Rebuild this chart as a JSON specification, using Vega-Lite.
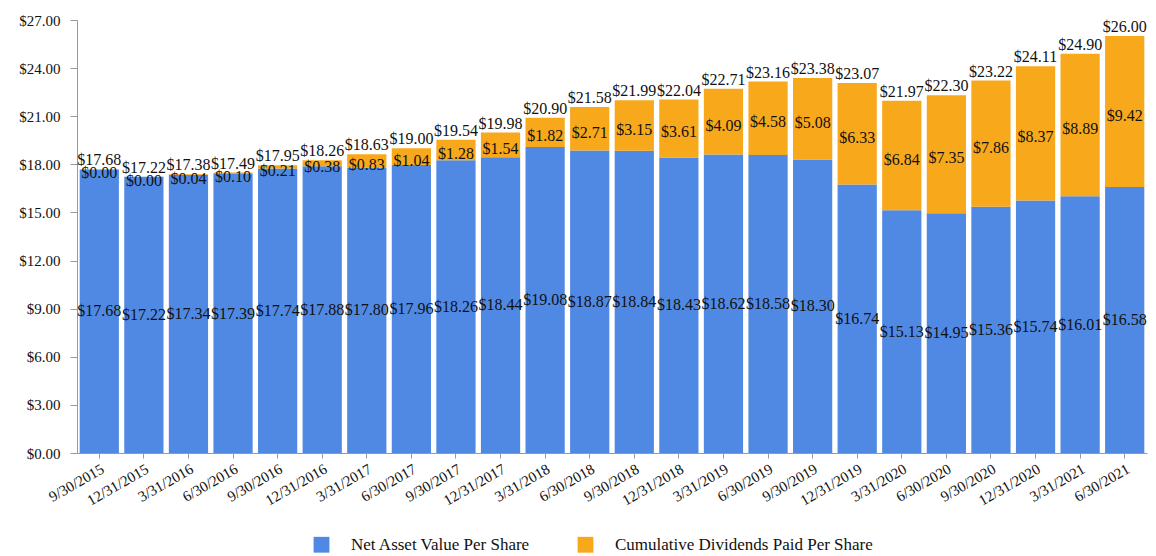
{
  "$schema": "https://vega.github.io/schema/vega-lite/v6.json",
  "width": 1070,
  "height": 433,
  "autosize": {"type": "none"},
  "padding": {"left": 77, "top": 20, "right": 9, "bottom": 103},
  "background": "white",
  "data": {
    "values": [
      {"date": "9/30/2015", "nav": 17.68, "div": 0.00, "total": 17.68},
      {"date": "12/31/2015", "nav": 17.22, "div": 0.00, "total": 17.22},
      {"date": "3/31/2016", "nav": 17.34, "div": 0.04, "total": 17.38},
      {"date": "6/30/2016", "nav": 17.39, "div": 0.10, "total": 17.49},
      {"date": "9/30/2016", "nav": 17.74, "div": 0.21, "total": 17.95},
      {"date": "12/31/2016", "nav": 17.88, "div": 0.38, "total": 18.26},
      {"date": "3/31/2017", "nav": 17.80, "div": 0.83, "total": 18.63},
      {"date": "6/30/2017", "nav": 17.96, "div": 1.04, "total": 19.00},
      {"date": "9/30/2017", "nav": 18.26, "div": 1.28, "total": 19.54},
      {"date": "12/31/2017", "nav": 18.44, "div": 1.54, "total": 19.98},
      {"date": "3/31/2018", "nav": 19.08, "div": 1.82, "total": 20.90},
      {"date": "6/30/2018", "nav": 18.87, "div": 2.71, "total": 21.58},
      {"date": "9/30/2018", "nav": 18.84, "div": 3.15, "total": 21.99},
      {"date": "12/31/2018", "nav": 18.43, "div": 3.61, "total": 22.04},
      {"date": "3/31/2019", "nav": 18.62, "div": 4.09, "total": 22.71},
      {"date": "6/30/2019", "nav": 18.58, "div": 4.58, "total": 23.16},
      {"date": "9/30/2019", "nav": 18.30, "div": 5.08, "total": 23.38},
      {"date": "12/31/2019", "nav": 16.74, "div": 6.33, "total": 23.07},
      {"date": "3/31/2020", "nav": 15.13, "div": 6.84, "total": 21.97},
      {"date": "6/30/2020", "nav": 14.95, "div": 7.35, "total": 22.30},
      {"date": "9/30/2020", "nav": 15.36, "div": 7.86, "total": 23.22},
      {"date": "12/31/2020", "nav": 15.74, "div": 8.37, "total": 24.11},
      {"date": "3/31/2021", "nav": 16.01, "div": 8.89, "total": 24.90},
      {"date": "6/30/2021", "nav": 16.58, "div": 9.42, "total": 26.00}
    ]
  },
  "encoding": {
    "x": {
      "field": "date",
      "type": "ordinal",
      "sort": null,
      "title": null,
      "scale": {"paddingInner": 0.12, "paddingOuter": 0.06},
      "axis": {
        "labelAngle": -30,
        "labelFontSize": 15,
        "labelColor": "#111",
        "tickColor": "#999",
        "domainColor": "#999",
        "tickSize": 5,
        "labelPadding": 3
      }
    }
  },
  "resolve": {"scale": {"y": "independent"}},
  "layer": [
    {
      "layer": [
        {
          "mark": {"type": "bar"},
          "encoding": {
            "y": {
              "field": "nav",
              "type": "quantitative",
              "title": null,
              "scale": {"domain": [0, 27], "nice": false},
              "axis": {
                "values": [0, 3, 6, 9, 12, 15, 18, 21, 24, 27],
                "format": "$.2f",
                "grid": false,
                "labelFontSize": 15,
                "labelColor": "#111",
                "tickColor": "#999",
                "domainColor": "#999",
                "tickSize": 7,
                "labelPadding": 10
              }
            },
            "color": {
              "datum": "Net Asset Value Per Share",
              "type": "nominal",
              "scale": {
                "domain": ["Net Asset Value Per Share", "Cumulative Dividends Paid Per Share"],
                "range": ["#5089E3", "#F8A81B"]
              },
              "legend": {
                "title": null,
                "orient": "none",
                "direction": "horizontal",
                "legendX": 236,
                "legendY": 516,
                "symbolType": "square",
                "symbolSize": 250,
                "symbolStrokeWidth": 0,
                "labelFontSize": 17,
                "labelColor": "#111",
                "labelOffset": 21,
                "labelLimit": 500,
                "columnPadding": 46,
                "padding": 0
              }
            }
          }
        },
        {
          "mark": {"type": "bar"},
          "encoding": {
            "y": {"field": "nav", "type": "quantitative", "title": null},
            "y2": {"field": "total"},
            "color": {"datum": "Cumulative Dividends Paid Per Share", "type": "nominal"}
          }
        },
        {
          "transform": [
            {"fold": ["nav", "total"], "as": ["k", "v"]}
          ],
          "mark": {"type": "text", "fontSize": 16, "color": "#111", "baseline": "middle", "dy": 4},
          "encoding": {
            "y": {"aggregate": "mean", "field": "v", "type": "quantitative", "title": null},
            "text": {"field": "div", "type": "quantitative", "format": "$.2f"}
          }
        },
        {
          "mark": {"type": "text", "fontSize": 16, "color": "#111", "baseline": "bottom", "dy": -1},
          "encoding": {
            "y": {"field": "total", "type": "quantitative", "title": null},
            "text": {"field": "total", "type": "quantitative", "format": "$.2f"}
          }
        }
      ]
    },
    {
      "mark": {"type": "text", "fontSize": 16, "color": "#111", "baseline": "middle", "dy": 0},
      "encoding": {
        "y": {
          "field": "nav",
          "type": "quantitative",
          "title": null,
          "scale": {"domain": [0, 54], "nice": false},
          "axis": null
        },
        "text": {"field": "nav", "type": "quantitative", "format": "$.2f"}
      }
    }
  ],
  "config": {
    "font": "Liberation Serif",
    "view": {"stroke": null}
  }
}
